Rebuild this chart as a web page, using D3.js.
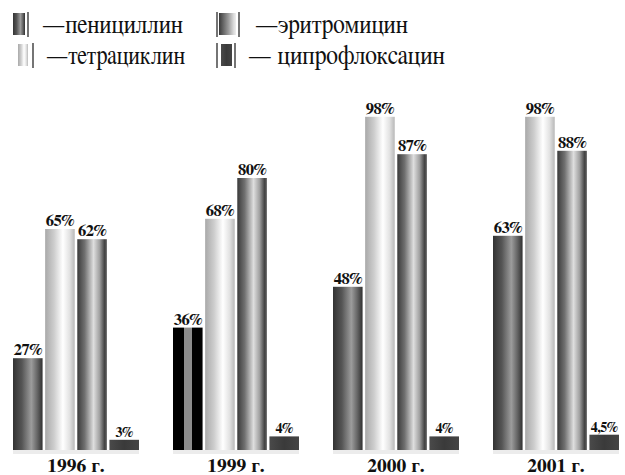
<!DOCTYPE html>
<html>
<head>
<meta charset="utf-8">
<script src="https://cdn.jsdelivr.net/npm/d3@7/dist/d3.min.js"></script>
<style>
  html, body { margin: 0; padding: 0; background: #fff; }
  svg { display: block; }
  svg text { font-family: "FreeSerif", "Liberation Serif", "DejaVu Serif", serif; }
</style>
</head>
<body>
<svg id="chart" width="625" height="475"></svg>
<script>
// Antibiotic resistance by year, percent
const years = ["1996", "1999", "2000", "2001"];
const drugs = ["пенициллин", "тетрациклин", "эритромицин", "ципрофлоксацин"];
const penicillin = [27, 36, 48, 63];
const tetracycline = [65, 68, 98, 98];
const erythromycin = [62, 80, 87, 88];
const ciprofloxacin = [3, 4, 4, 4.5];
const valueLabels = [
  ["27%", "65%", "62%", "3%"],
  ["36%", "68%", "80%", "4%"],
  ["48%", "98%", "87%", "4%"],
  ["63%", "98%", "88%", "4,5%"]
];
const yearLabels = ["1996 г.", "1999 г.", "2000 г.", "2001 г."];

const seriesValues = [penicillin, tetracycline, erythromycin, ciprofloxacin];
const rows = years.map((y, i) => ({
  year: y,
  label: yearLabels[i],
  bars: drugs.map((d, j) => ({ drug: d, idx: j, value: seriesValues[j][i], text: valueLabels[i][j], year: y }))
}));

const svg = d3.select("#chart");
const W = 625, H = 475;
svg.append("rect").attr("width", W).attr("height", H).attr("fill", "#fff");

// Cylinder-like horizontal gradients
const defs = svg.append("defs");
function grad(id, stops) {
  const g = defs.append("linearGradient").attr("id", id)
    .attr("x1", "0%").attr("x2", "100%").attr("y1", "0%").attr("y2", "0%");
  stops.forEach(s => g.append("stop").attr("offset", s[0]).attr("stop-color", s[1]));
}
grad("g-pen", [[0, "#333333"], [0.3, "#555555"], [0.62, "#9c9c9c"], [0.82, "#666666"], [1, "#303030"]]);
grad("g-tet", [[0, "#a9a9a9"], [0.3, "#cdcdcd"], [0.6, "#ffffff"], [0.82, "#e3e3e3"], [1, "#b8b8b8"]]);
grad("g-ery", [[0, "#3a3a3a"], [0.25, "#707070"], [0.55, "#dedede"], [0.75, "#a2a2a2"], [0.92, "#454545"], [1, "#5a5a5a"]]);
grad("g-cip", [[0, "#4a4a4a"], [0.5, "#3a3a3a"], [1, "#444444"]]);
grad("g-pen99", [[0, "#000"], [0.37, "#000"], [0.37, "#8c8c8c"], [0.63, "#8c8c8c"], [0.63, "#000"], [1, "#000"]]);
grad("g-ery-sw", [[0, "#3a3a3a"], [0.55, "#9a9a9a"], [0.85, "#d8d8d8"], [1, "#eeeeee"]]);
const fills = ["url(#g-pen)", "url(#g-tet)", "url(#g-ery)", "url(#g-cip)"];

const x0 = d3.scaleBand().domain(years).range([13, 619]).paddingInner(0.2125).paddingOuter(0);
const x1 = d3.scaleBand().domain(drugs).range([0, x0.bandwidth()]).paddingInner(0.08);
const y = d3.scaleLinear().domain([0, 100]).range([450, 110]);

const groups = svg.selectAll("g.year").data(rows).join("g")
  .attr("class", "year")
  .attr("transform", d => `translate(${x0(d.year)},0)`);

// faint floor under each group
groups.append("rect")
  .attr("x", 0).attr("y", y(0)).attr("width", x0.bandwidth()).attr("height", 4)
  .attr("fill", "#e4e4e4").attr("opacity", 0.7);

groups.selectAll("rect.bar").data(d => d.bars).join("rect")
  .attr("class", "bar")
  .attr("x", d => x1(d.drug))
  .attr("y", d => y(d.value))
  .attr("width", x1.bandwidth())
  .attr("height", d => y(0) - y(d.value))
  .attr("fill", d => (d.year === "1999" && d.idx === 0) ? "url(#g-pen99)" : fills[d.idx]);

groups.selectAll("text.val").data(d => d.bars).join("text")
  .attr("class", "val")
  .attr("x", d => x1(d.drug) + x1.bandwidth() / 2)
  .attr("y", d => y(d.value) - 3)
  .attr("text-anchor", "middle")
  .style("font-weight", "bold")
  .style("font-size", d => (d.idx === 3 ? 14 : 16.5) + "px")
  .attr("letter-spacing", -0.5)
  .attr("fill", "#111")
  .text(d => d.text);

groups.append("text")
  .attr("x", x0.bandwidth() / 2)
  .attr("y", 472)
  .attr("text-anchor", "middle")
  .style("font-weight", "bold")
  .style("font-size", "19.5px")
  .attr("fill", "#111")
  .text(d => d.label);

// Legend
const legend = [
  { fill: "url(#g-pen)", lines: [28], rx: 13, rw: 12, row: 0, tx: 42, tw: 141, text: "—" + drugs[0] },
  { fill: "url(#g-tet)", lines: [33], rx: 18, rw: 10, row: 1, tx: 46, tw: 139, text: "—" + drugs[1] },
  { fill: "url(#g-ery-sw)", lines: [217, 239], rx: 219, rw: 17, row: 0, tx: 255, tw: 153, text: "—" + drugs[2] },
  { fill: "url(#g-cip)", lines: [217, 235], rx: 221, rw: 11, row: 1, tx: 248, tw: 197, text: "— " + drugs[3] }
];
const rowTop = [13, 44];
const rowBase = [33, 64];
const lg = svg.append("g").attr("class", "legend");
legend.forEach(e => {
  const top = rowTop[e.row];
  lg.append("rect").attr("x", e.rx).attr("y", top).attr("width", e.rw).attr("height", 22).attr("fill", e.fill);
  e.lines.forEach(lx => lg.append("line")
    .attr("x1", lx).attr("x2", lx).attr("y1", top - 1).attr("y2", top + 24)
    .attr("stroke", "#2a2a2a").attr("stroke-width", 1.3));
  lg.append("text")
    .attr("x", e.tx).attr("y", rowBase[e.row])
    .style("font-size", "27px")
    .attr("textLength", e.tw)
    .attr("lengthAdjust", "spacingAndGlyphs")
    .attr("fill", "#111")
    .text(e.text);
});
</script>
</body>
</html>
